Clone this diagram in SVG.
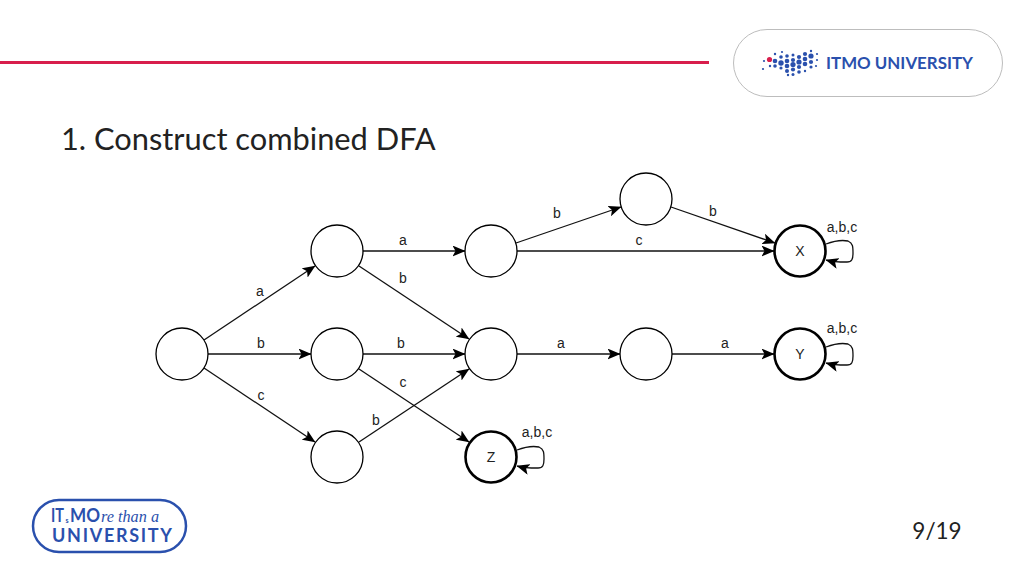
<svg xmlns="http://www.w3.org/2000/svg" width="1024" height="576" viewBox="0 0 1024 576">
<style>
.n{fill:#fff;stroke:#000;stroke-width:1.3}
.t{fill:#fff;stroke:#000;stroke-width:2.6}
.e{fill:none;stroke:#111;stroke-width:1.3;marker-end:url(#arr)}
.l{font-family:"Liberation Sans",Arial,sans-serif;font-size:14px;fill:#222;text-anchor:middle}
.s{font-family:"Liberation Sans",Arial,sans-serif;font-size:14px;fill:#222;text-anchor:middle}
.c{font-family:Lato,"Open Sans",sans-serif;font-size:30.800px;fill:#222}
.b{fill:#2a50ad}
.w{font-family:Lato,"Open Sans",sans-serif;font-weight:700;fill:#2a50ad}
</style>
<defs>
<marker id="arr" viewBox="0 0 13 11" markerUnits="userSpaceOnUse" markerWidth="13" markerHeight="11" refX="12.500" refY="5.500" orient="auto"><path d="M0 0L13 5.500L0 11L3 5.500Z" fill="#000"/></marker>
</defs>
<rect width="1024" height="576" fill="#fff"/>
<g id="header">
<rect x="0" y="61" width="709" height="3" fill="#d81e4c"/>
<rect x="733.500" y="29.500" width="269" height="67" rx="33.500" fill="#fff" stroke="#bdbdbd"/>
<g class="b">
<circle cx="763" cy="69" r="1.100"/><circle cx="764" cy="61" r="1.100"/>
<circle cx="769.500" cy="59.500" r="2.600" fill="#d81e4c"/><circle cx="770" cy="66" r="1.200"/>
<circle cx="775" cy="54" r="1.200"/><circle cx="775" cy="61" r="2.300"/><circle cx="775" cy="66" r="1.800"/>
<circle cx="782" cy="52" r="1.100"/><circle cx="781" cy="57" r="1.800"/><circle cx="781" cy="63" r="2.700"/><circle cx="781" cy="68" r="1.600"/>
<circle cx="787" cy="56" r="1.800"/><circle cx="787" cy="61" r="2.300"/><circle cx="787" cy="66" r="2.300"/><circle cx="787" cy="71" r="2"/>
<circle cx="793" cy="55" r="1.500"/><circle cx="793" cy="60" r="2.100"/><circle cx="793" cy="64.500" r="2.600"/><circle cx="793" cy="69.500" r="2.100"/><circle cx="788" cy="75" r="1.200"/>
<circle cx="799" cy="57" r="2.100"/><circle cx="799" cy="62" r="2.600"/><circle cx="799" cy="67" r="2.100"/><circle cx="793" cy="74.500" r="1.500"/>
<circle cx="805" cy="54" r="2.100"/><circle cx="805" cy="59" r="2.300"/><circle cx="805" cy="64" r="2.300"/><circle cx="799" cy="72" r="1.800"/>
<circle cx="811" cy="51" r="1.200"/><circle cx="811" cy="56" r="2.600"/><circle cx="811" cy="62" r="2.100"/><circle cx="811" cy="67" r="1.600"/><circle cx="805" cy="71" r="1.200"/>
<circle cx="817" cy="54" r="1.100"/><circle cx="817" cy="60" r="1.100"/><circle cx="816" cy="66" r="1.100"/>
</g>
<text class="w" x="826" y="69" font-size="17" textLength="147" lengthAdjust="spacingAndGlyphs">ITMO UNIVERSITY</text>
</g>
<text class="c" x="61" y="150">1. Construct combined DFA</text>
<g id="connectors">
<line class="e" x1="204" y1="340" x2="315" y2="266"/>
<line class="e" x1="208" y1="354" x2="311" y2="354"/>
<line class="e" x1="204" y1="368" x2="315" y2="442"/>
<line class="e" x1="363" y1="251" x2="465" y2="251"/>
<line class="e" x1="359" y1="266" x2="469" y2="339"/>
<line class="e" x1="363" y1="354" x2="465" y2="354"/>
<line class="e" x1="359" y1="369" x2="469" y2="442"/>
<line class="e" x1="359" y1="442" x2="469" y2="369"/>
<line class="e" x1="516" y1="243" x2="621" y2="207"/>
<line class="e" x1="517" y1="251" x2="774" y2="251"/>
<line class="e" x1="671" y1="207" x2="775" y2="243"/>
<line class="e" x1="517" y1="354" x2="620" y2="354"/>
<line class="e" x1="672" y1="354" x2="774" y2="354"/>
<path class="e" d="M826 244C834 241 843 240 848 241C853 243 853 247 853 253C853 259 852 262 847 262C840 262 833 262 826 260"/>
<path class="e" d="M826 347C834 344 843 343 848 344C853 346 853 350 853 356C853 362 852 365 847 365C840 365 833 365 826 363"/>
<path class="e" d="M517 450C525 447 534 446 539 447C544 449 544 453 544 459C544 465 543 468 538 468C531 468 524 468 517 466"/>
</g>
<g id="edge-labels">
<text class="l" x="260" y="296">a</text>
<text class="l" x="261" y="348">b</text>
<text class="l" x="261" y="400">c</text>
<text class="l" x="403" y="245">a</text>
<text class="l" x="403" y="283">b</text>
<text class="l" x="401" y="348">b</text>
<text class="l" x="403" y="387">c</text>
<text class="l" x="376" y="425">b</text>
<text class="l" x="557" y="218">b</text>
<text class="l" x="639" y="245">c</text>
<text class="l" x="713" y="216">b</text>
<text class="l" x="561" y="348">a</text>
<text class="l" x="725" y="348">a</text>
<text class="l" x="842" y="232">a,b,c</text>
<text class="l" x="842" y="333">a,b,c</text>
<text class="l" x="537" y="437">a,b,c</text>
</g>
<g id="node-s"><circle class="n" cx="182" cy="354" r="26"/></g>
<g id="node-a"><circle class="n" cx="337" cy="251" r="26"/></g>
<g id="node-b"><circle class="n" cx="337" cy="354" r="26"/></g>
<g id="node-c"><circle class="n" cx="337" cy="457" r="26"/></g>
<g id="node-d"><circle class="n" cx="491" cy="251" r="26"/></g>
<g id="node-e"><circle class="n" cx="646" cy="199" r="26"/></g>
<g id="node-f"><circle class="n" cx="491" cy="354" r="26"/></g>
<g id="node-g"><circle class="n" cx="646" cy="354" r="26"/></g>
<g id="node-x"><circle class="t" cx="800" cy="251" r="25.500"/><text class="s" x="800" y="256">X</text></g>
<g id="node-y"><circle class="t" cx="800" cy="354" r="25.500"/><text class="s" x="800" y="359">Y</text></g>
<g id="node-z"><circle class="t" cx="491" cy="457" r="25.500"/><text class="s" x="491" y="462">Z</text></g>
<g id="footer-logo">
<rect x="33" y="500" width="153" height="52" rx="26" fill="#fff" stroke="#2a50ad" stroke-width="2.500"/>
<text class="w" x="51" y="522" font-size="18" font-weight="900" textLength="13" lengthAdjust="spacingAndGlyphs">IT</text>
<text class="w" x="65.500" y="523" font-size="7" font-weight="400">s</text>
<text class="w" x="70" y="522" font-size="18" textLength="30" lengthAdjust="spacingAndGlyphs">MO</text>
<text x="101" y="522" font-family="'Liberation Serif',serif" font-style="italic" font-size="16" fill="#2a50ad" textLength="58" lengthAdjust="spacingAndGlyphs">re than a</text>
<text class="w" x="52" y="542" font-size="18" textLength="120" lengthAdjust="spacing">UNIVERSITY</text>
</g>
<text x="937" y="539" font-family="Lato,'Open Sans',sans-serif" font-size="22.500" fill="#222" text-anchor="middle">9/19</text>
</svg>
